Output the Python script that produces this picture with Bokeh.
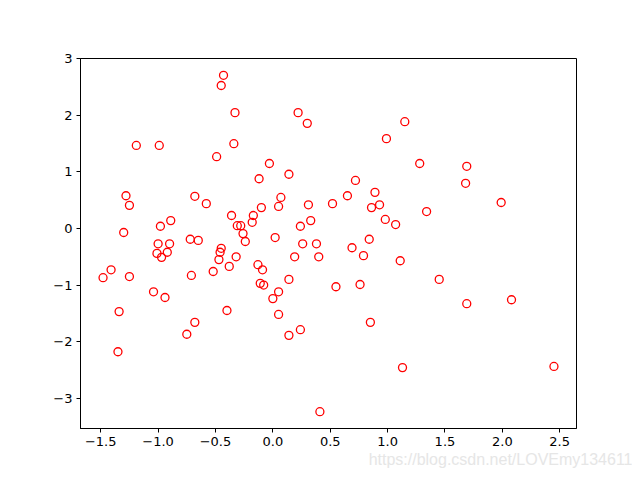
from bokeh.plotting import figure
from bokeh.models import FixedTicker, Range1d, Title
from bokeh.embed import file_html
from bokeh.resources import INLINE

# pixel-read values (x, y) of the scatter points
xs = [-1.48, -1.41, -1.34, -1.35, -1.30, -1.28, -1.25, -1.25, -1.19, -1.01,
      -0.99, -1.00, -0.98, -0.97, -0.94, -0.92, -0.90, -0.89, -1.04, -0.75,
      -0.72, -0.71, -0.68, -0.68, -0.65, -0.58, -0.52, -0.49, -0.47, -0.45,
      -0.46, -0.43, -0.45, -0.40, -0.38, -0.36, -0.34, -0.33, -0.32, -0.31,
      -0.28, -0.26, -0.24, -0.18, -0.17, -0.13, -0.12, -0.10, -0.11, -0.09,
      -0.08, -0.03, 0.00, 0.02, 0.05, 0.05, 0.05, 0.07, 0.14, 0.14,
      0.14, 0.19, 0.22, 0.24, 0.24, 0.26, 0.30, 0.31, 0.33, 0.38,
      0.40, 0.41, 0.52, 0.55, 0.65, 0.69, 0.72, 0.76, 0.79, 0.84,
      0.85, 0.86, 0.89, 0.93, 0.98, 0.99, 1.07, 1.11, 1.13, 1.15,
      1.28, 1.34, 1.45, 1.68, 1.69, 1.69, 1.99, 2.08, 2.45]
ys = [-0.87, -0.73, -1.47, -2.18, -0.07, 0.58, 0.41, -0.85, 1.47, -0.44,
      1.47, -0.27, 0.04, -0.51, -1.22, -0.42, -0.27, 0.14, -1.12, -1.87,
      -0.19, -0.83, 0.57, -1.66, -0.21, 0.44, -0.76, 1.27, -0.55, -0.35,
      -0.42, 2.71, 2.53, -1.45, -0.67, 0.23, 1.50, 2.05, -0.50, 0.05,
      0.05, -0.09, -0.23, 0.11, 0.23, -0.64, 0.88, 0.37, -0.97, -0.73,
      -1.00, 1.15, -1.24, -0.16, -1.12, -1.52, 0.39, 0.55, 0.96, -0.90,
      -1.89, -0.50, 2.05, -1.79, 0.04, -0.27, 1.86, 0.42, 0.14, -0.27,
      -0.50, -3.24, 0.44, -1.03, 0.58, -0.34, 0.85, -0.99, -0.48, -0.19,
      -1.66, 0.37, 0.64, 0.42, 0.16, 1.59, 0.07, -0.57, -2.46, 1.89,
      1.15, 0.30, -0.90, 0.80, 1.10, -1.33, 0.46, -1.26, -2.44]

x_ticks = [-1.5, -1.0, -0.5, 0.0, 0.5, 1.0, 1.5, 2.0, 2.5]
y_ticks = [-3, -2, -1, 0, 1, 2, 3]
watermark = "https://blog.csdn.net/LOVEmy134611"

def fmt(v, d):
    s = f"{abs(v):.{d}f}"
    return ("\u2212" + s) if v < 0 else s

xmin, xmax = min(xs), max(xs)
ymin, ymax = min(ys), max(ys)
mx = 0.05 * (xmax - xmin)
my = 0.05 * (ymax - ymin)

p = figure(width=632, height=472, output_backend="svg", toolbar_location=None,
           x_range=Range1d(xmin - mx, xmax + mx), y_range=Range1d(ymin - my, ymax + my),
           min_border_left=80, min_border_right=56, min_border_top=58, min_border_bottom=44)

p.scatter(xs, ys, size=8, fill_color=None, line_color="red", line_width=1.3)

p.grid.visible = False
p.outline_line_color = "black"
p.outline_line_width = 1
for ax in (p.xaxis[0], p.yaxis[0]):
    ax.axis_line_color = "black"
    ax.major_tick_line_color = "black"
    ax.major_tick_out = 4
    ax.major_tick_in = 0
    ax.minor_tick_line_color = None
    ax.major_label_text_font = "DejaVu Sans"
    ax.major_label_text_font_size = "13px"
    ax.major_label_text_color = "black"
    ax.major_label_standoff = 4

p.xaxis.ticker = FixedTicker(ticks=x_ticks)
p.xaxis.major_label_overrides = {t: fmt(t, 1) for t in x_ticks}
p.yaxis.ticker = FixedTicker(ticks=y_ticks)
p.yaxis.major_label_overrides = {t: fmt(t, 0) for t in y_ticks}

wm = Title(text=watermark, align="right", offset=-56, standoff=0,
           text_color="#e6e6e6", text_font_size="16px", text_font="Liberation Sans",
           text_font_style="normal")
p.add_layout(wm, "below")

open("out.html", "w").write(file_html(p, INLINE))
